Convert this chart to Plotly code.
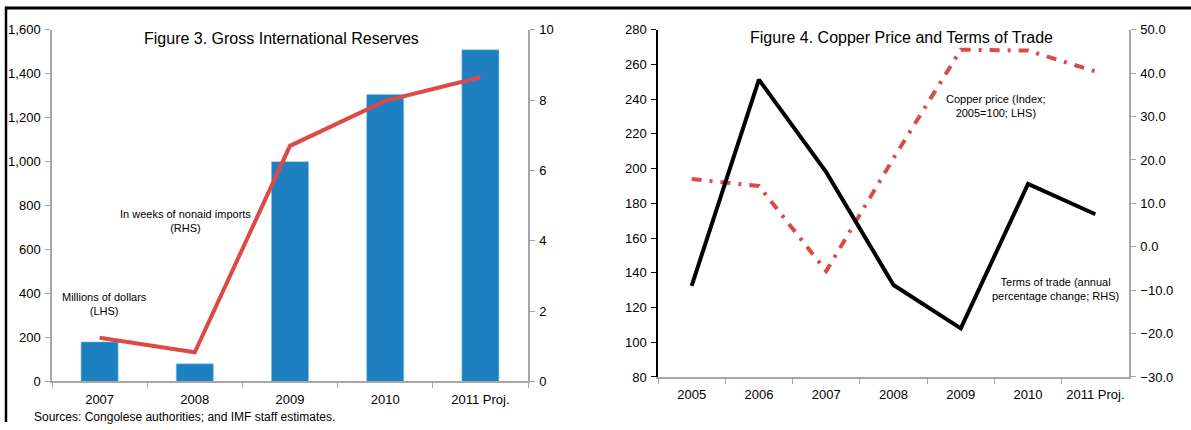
import plotly.graph_objects as go

# ---- Figure 3 data ----
years3 = ["2007", "2008", "2009", "2010", "2011 Proj."]
reserves_musd = [180, 80, 1000, 1306, 1509]
weeks_imports = [1.24, 0.83, 6.7, 7.98, 8.65]

# ---- Figure 4 data ----
years4 = ["2005", "2006", "2007", "2008", "2009", "2010", "2011 Proj."]
copper_index = [194, 190, 141, 206, 268.5, 268, 256]
terms_of_trade = [-9.0, 38.5, 17.2, -8.8, -18.8, 14.5, 7.5]

W, H = 1191, 430
BAR = "#1f80c1"
RED = "#dc4a46"
GREY = "#a6a6a6"
FONT = "Liberation Sans, Arial, sans-serif"


def px(x):
    return x / W


def py(y):
    # page layout is designed on a 1191x430 grid; the vertical grid is
    # mapped onto the page through the fixed top inset of the layout
    f = (y - 6.2) / 0.966
    return 1 - f / H


fig = go.Figure()

fig.add_trace(go.Bar(x=years3, y=reserves_musd, marker=dict(color=BAR, line=dict(color="#8cc4ea", width=0.6)),
                     width=0.39, xaxis="x", yaxis="y"))
fig.add_trace(go.Scatter(x=years3, y=weeks_imports, mode="lines", line=dict(color=RED, width=4),
                         xaxis="x", yaxis="y2"))

fig.add_trace(go.Scatter(x=years4, y=copper_index, mode="lines",
                         line=dict(color=RED, width=4, dash="10px,8px,3px,8px"),
                         xaxis="x3", yaxis="y3"))
fig.add_trace(go.Scatter(x=years4, y=terms_of_trade, mode="lines", line=dict(color="black", width=4),
                         xaxis="x3", yaxis="y4"))

tickfont = dict(family=FONT, size=13, color="black")
common_x = dict(type="category", showgrid=False, zeroline=False, showline=True, linecolor=GREY, linewidth=1.5,
                ticks="outside", ticklen=5, tickcolor=GREY, tickson="boundaries", tickfont=tickfont,
                ticklabelstandoff=5, fixedrange=True)
common_y = dict(showgrid=False, zeroline=False, showline=True, linewidth=1.5, ticks="outside", ticklen=5,
                tickfont=tickfont, ticklabelstandoff=2, fixedrange=True)

fig.update_layout(
    width=W, height=H, margin=dict(l=0, r=0, t=0, b=0),
    paper_bgcolor="white", plot_bgcolor="white", showlegend=False,
    xaxis=dict(domain=[px(52), px(528)], anchor="y", range=[-0.5, 4.5], **common_x),
    yaxis=dict(domain=[py(381), py(29)], anchor="x", range=[0, 1600], dtick=200, tickformat=",",
               linecolor=GREY, tickcolor=GREY, **common_y),
    yaxis2=dict(overlaying="y", side="right", anchor="x", range=[0, 10], dtick=2,
                linecolor=GREY, tickcolor=GREY, **common_y),
    xaxis3=dict(domain=[px(658), px(1129)], anchor="y3", range=[-0.5, 6.5], **common_x),
    yaxis3=dict(domain=[py(376.5), py(29)], anchor="x3", range=[80, 280], dtick=20,
                linecolor="black", tickcolor="black", **common_y),
    yaxis4=dict(overlaying="y3", side="right", anchor="x3", range=[-30, 50], dtick=10, tickformat=".1f",
                linecolor=GREY, tickcolor=GREY, **common_y),
)

# outer frame (top and left edges)
fig.add_shape(type="line", xref="paper", yref="paper", x0=px(5), x1=1, y0=py(7.2), y1=py(7.2),
              line=dict(color="black", width=3))
fig.add_shape(type="line", xref="paper", yref="paper", x0=px(6), x1=px(6), y0=py(6), y1=0,
              line=dict(color="black", width=2.5))


def note(x, y, text, size=11, family=FONT):
    fig.add_annotation(x=px(x), y=py(y), xref="paper", yref="paper", text=text, showarrow=False,
                       font=dict(family=family, size=size, color="black"), align="center",
                       xanchor="center", yanchor="middle")


note(281.5, 38, "Figure 3. Gross International Reserves", size=16)
note(901, 37, "Figure 4. Copper Price and Terms of Trade", size=16)
note(185, 220, "In weeks of nonaid imports<br>(RHS)")
note(104, 303, "Millions of dollars<br>(LHS)")
note(995.5, 105, "Copper price (Index;<br>2005=100; LHS)")
note(1055, 288, "Terms of trade (annual<br>percentage change; RHS)")
fig.add_annotation(x=px(32), y=py(416.5), xref="paper", yref="paper", showarrow=False,
                   text="Sources: Congolese authorities; and IMF staff estimates.",
                   font=dict(family=FONT, size=12, color="black"), xanchor="left", yanchor="middle")

# pin the graph to the top-left corner of the page
page_js = (
    "var gd=document.getElementById('{plot_id}');"
    "[document.documentElement, document.body].forEach(function(e){"
    "e.style.margin='0';e.style.padding='0';e.style.overflow='hidden';e.style.height='430px';});"
    "gd.style.position='fixed';gd.style.left='0';gd.style.top='0';"
)
fig.write_html("out.html", post_script=page_js)
